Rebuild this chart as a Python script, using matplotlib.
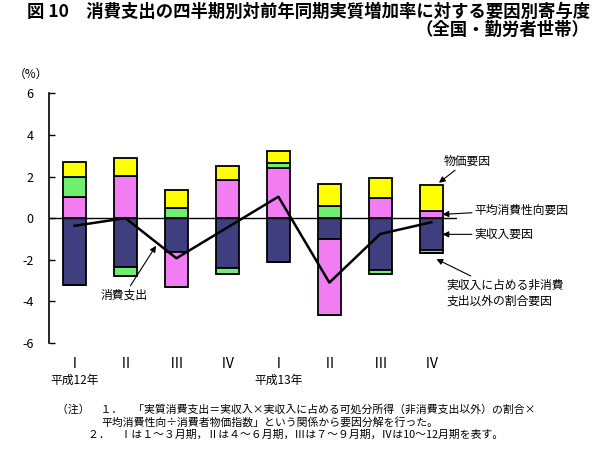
import matplotlib
matplotlib.use('Agg')
import matplotlib.pyplot as plt
import numpy as np

plt.rcParams['font.family'] = ['Noto Sans CJK JP', 'DejaVu Sans']

# quarters (平成12年 I..IV, 平成13年 I..IV)
quarters = ['Ⅰ', 'Ⅱ', 'Ⅲ', 'Ⅳ', 'Ⅰ', 'Ⅱ', 'Ⅲ', 'Ⅳ']
years = {0: '平成12年', 4: '平成13年'}

# contributions (%)
income = [-3.20, -2.36, -1.64, -2.42, -2.12, -0.98, -2.50, -1.53]      # 実収入要因
share = [0.97, -0.42, 0.47, -0.27, 0.24, 0.60, -0.17, -0.16]          # 実収入に占める非消費支出以外の割合要因
propensity = [1.02, 2.02, -1.68, 1.81, 2.39, -3.70, 0.95, 0.36]       # 平均消費性向要因
price = [0.72, 0.88, 0.90, 0.70, 0.62, 1.02, 0.96, 1.23]              # 物価要因
spending = [-0.37, 0.00, -1.93, -0.45, 1.03, -3.10, -0.76, -0.20]     # 消費支出

col_income = '#3f3f7f'
col_share = '#70ee70'
col_prop = '#f27cf2'
col_price = '#ffff00'

fig = plt.figure(figsize=(5.98, 4.53), dpi=100)
ax = fig.add_axes([0.0819, 0.243, 0.682, 0.551])

x = np.arange(len(quarters)) + 0.5
w = 0.45

pos_base = np.zeros(len(x))
neg_base = np.zeros(len(x))
# positive parts stacked: propensity, share, price ; negative: income, share, propensity
for vals, col in [(income, col_income), (propensity, col_prop), (share, col_share), (price, col_price)]:
    v = np.array(vals)
    pos = np.where(v > 0, v, 0)
    neg = np.where(v < 0, v, 0)
    ax.bar(x, pos, w, bottom=pos_base, color=col, edgecolor='black', linewidth=1.3, zorder=2)
    ax.bar(x, neg, w, bottom=neg_base, color=col, edgecolor='black', linewidth=1.3, zorder=2)
    pos_base += pos
    neg_base += neg

ax.axhline(0, xmin=0, xmax=1, color='black', linewidth=1.0, zorder=3)
ax.plot(x, spending, color='black', linewidth=1.8, zorder=4)

ax.set_xlim(0, 8)
ax.set_ylim(-6, 6)
ax.set_yticks([-6, -4, -2, 0, 2, 4, 6])
ax.set_yticklabels(['-6', '-4', '-2', '0', '2', '4', '6'])
ax.tick_params(axis='y', direction='in', length=4, width=1, pad=11, labelsize=9)
ax.set_xticks([])
for s in ['top', 'right', 'bottom']:
    ax.spines[s].set_visible(False)
ax.spines['left'].set_linewidth(1.2)

for i, q in enumerate(quarters):
    ax.text(x[i], -7.0, q, ha='center', va='center', fontsize=10, clip_on=False)
for i, yr in years.items():
    ax.text(x[i], -7.8, yr, ha='center', va='center', fontsize=8.5, clip_on=False)

# annotations
arrow = dict(arrowstyle='-|>', color='black', lw=0.8, mutation_scale=9, shrinkA=0, shrinkB=0)
ax.annotate('消費支出', xy=(2.1, -1.33), xytext=(1.48, -3.7), fontsize=8.5,
            ha='center', va='center', arrowprops=arrow)
ax.annotate('物価要因', xy=(7.65, 1.7), xytext=(8.2, 2.75), fontsize=8.5,
            ha='center', va='center', arrowprops=arrow)
ax.annotate('平均消費性向要因', xy=(7.72, 0.18), xytext=(8.35, 0.39), fontsize=8.5,
            ha='left', va='center', arrowprops=arrow)
ax.annotate('実収入要因', xy=(7.72, -0.78), xytext=(8.35, -0.78), fontsize=8.5,
            ha='left', va='center', arrowprops=arrow)
ax.annotate('実収入に占める非消費\n支出以外の割合要因', xy=(7.6, -1.97), xytext=(7.8, -3.6),
            fontsize=8.5, ha='left', va='center', linespacing=1.25, arrowprops=arrow)

fig.text(0.986, 0.973, '図 10　消費支出の四半期別対前年同期実質増加率に対する要因別寄与度',
         ha='right', va='center', fontsize=12.5, fontweight='bold')
fig.text(0.986, 0.934, '（全国・勤労者世帯）', ha='right', va='center', fontsize=12.5, fontweight='bold')
fig.text(0.052, 0.835, '（%）', ha='center', va='center', fontsize=8.5)

fig.text(0.095, 0.097, '（注）　１．　「実質消費支出＝実収入×実収入に占める可処分所得（非消費支出以外）の割合×',
         ha='left', va='center', fontsize=7.8)
fig.text(0.17, 0.068, '平均消費性向÷消費者物価指数」という関係から要因分解を行った。',
         ha='left', va='center', fontsize=7.8)
fig.text(0.147, 0.040, '２．　Ⅰは１～３月期，Ⅱは４～６月期，Ⅲは７～９月期，Ⅳは10～12月期を表す。',
         ha='left', va='center', fontsize=7.8)

fig.savefig('out.png', dpi=100)
